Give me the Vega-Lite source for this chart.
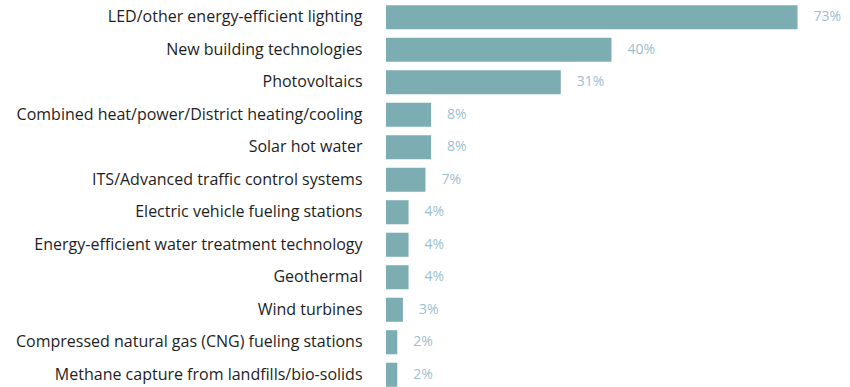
{
  "$schema": "https://vega.github.io/schema/vega-lite/v6.json",
  "width": 451,
  "height": 390,
  "autosize": {"type": "none"},
  "padding": {"left": 386, "top": 1, "right": 13, "bottom": 0},
  "background": "white",
  "config": {"view": {"stroke": null}, "font": "Open Sans"},
  "data": {"values": [
    {"tech": "LED/other energy-efficient lighting", "share": 0.73},
    {"tech": "New building technologies", "share": 0.40},
    {"tech": "Photovoltaics", "share": 0.31},
    {"tech": "Combined heat/power/District heating/cooling", "share": 0.08},
    {"tech": "Solar hot water", "share": 0.08},
    {"tech": "ITS/Advanced traffic control systems", "share": 0.07},
    {"tech": "Electric vehicle fueling stations", "share": 0.04},
    {"tech": "Energy-efficient water treatment technology", "share": 0.04},
    {"tech": "Geothermal", "share": 0.04},
    {"tech": "Wind turbines", "share": 0.03},
    {"tech": "Compressed natural gas (CNG) fueling stations", "share": 0.02},
    {"tech": "Methane capture from landfills/bio-solids", "share": 0.02}
  ]},
  "encoding": {
    "y": {"field": "tech", "type": "nominal", "sort": null,
      "scale": {"paddingInner": 0.26, "paddingOuter": 0.13},
      "axis": {"title": null, "domain": false, "ticks": false, "labelPadding": 24, "labelFontSize": 16, "labelColor": "#1e1e1e", "labelLimit": 400, "labelFont": "Open Sans"}},
    "x": {"field": "share", "type": "quantitative", "scale": {"domain": [0, 0.8]}, "axis": null}
  },
  "layer": [
    {"mark": {"type": "bar", "color": "#7badb3"}},
    {"mark": {"type": "text", "align": "left", "dx": 16, "fontSize": 14, "color": "#9cc0cf", "font": "Open Sans"},
     "encoding": {"text": {"field": "share", "type": "quantitative", "format": ".0%"}}}
  ]
}
